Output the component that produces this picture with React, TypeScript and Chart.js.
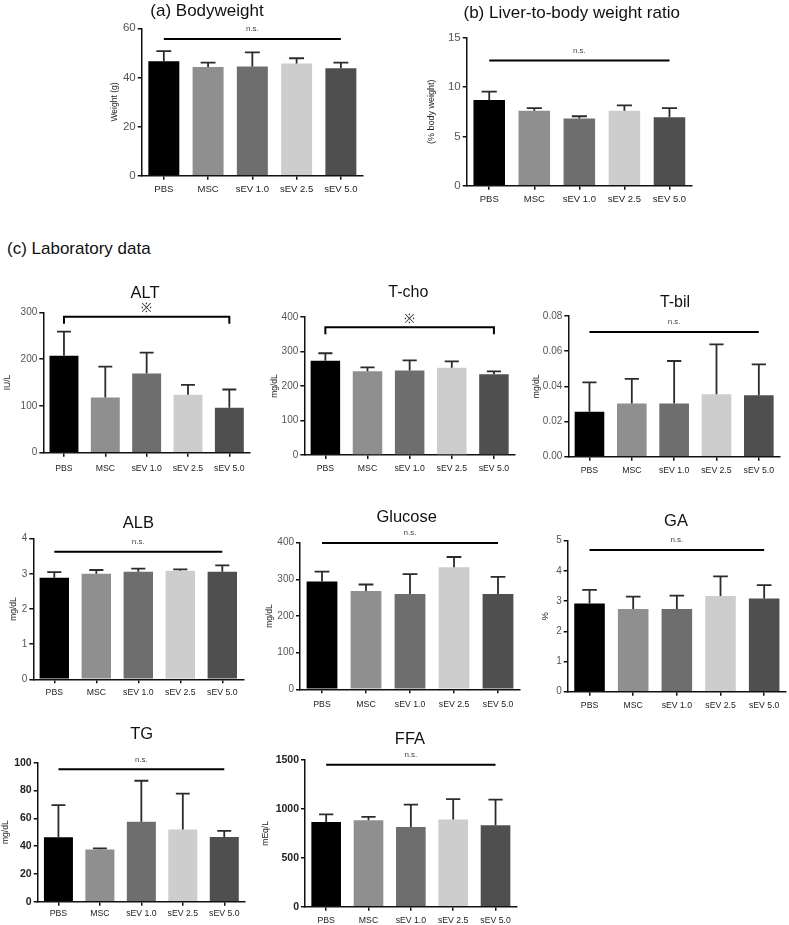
import React, { useEffect, useRef } from 'react';
import { Chart, registerables } from 'chart.js';
Chart.register(...registerables);

const FONT = "'Liberation Sans', Arial, Helvetica, sans-serif";

// ---------- data ----------
const groups = ['PBS', 'MSC', 'sEV 1.0', 'sEV 2.5', 'sEV 5.0'];
const barColors = ['#000000', '#8f8f8f', '#6e6e6e', '#cdcdcd', '#4f4f4f'];

const bodyweightMean = [46.6, 44.2, 44.5, 45.7, 43.7];
const bodyweightSD = [4.1, 1.8, 5.7, 2.1, 2.3];

const liverRatioMean = [8.68, 7.6, 6.8, 7.6, 6.93];
const liverRatioSD = [0.85, 0.27, 0.24, 0.55, 0.94];

const altMean = [207, 118, 169, 124, 96];
const altSD = [51.5, 66, 45, 21, 39];

const tchoMean = [273, 243, 245, 253, 234];
const tchoSD = [22, 11, 29, 18.5, 8.5];

const tbilMean = [0.0256, 0.0303, 0.0303, 0.0355, 0.0349];
const tbilSD = [0.0167, 0.0139, 0.0241, 0.0284, 0.0176];

const albMean = [2.89, 3.0, 3.06, 3.09, 3.06];
const albSD = [0.16, 0.11, 0.09, 0.04, 0.18];

const glucoseMean = [294, 268, 260, 333, 260];
const glucoseSD = [27, 18, 54, 28, 47];

const gaMean = [2.92, 2.74, 2.74, 3.17, 3.09];
const gaSD = [0.45, 0.41, 0.44, 0.65, 0.44];

const tgMean = [46.3, 37.6, 57.6, 52, 46.5];
const tgSD = [23.2, 0.8, 29.4, 25.7, 4.5];

const ffaMean = [867, 884, 816, 891, 833];
const ffaSD = [78, 34, 228, 208, 262];

// significance line levels (axis units)
const sigLevels = {
  bw: 55.6, liver: 12.7, alt: 290.6, tcho: 370, tbil: 0.0709,
  alb: 3.63, glucose: 399, ga: 4.69, tg: 95.2, ffa: 1452,
};

// ---------- layout ----------
type Panel = {
  id: string;
  title: string;
  titleX: number;
  titleY: number;
  titleSize: number;
  yLabel: string;
  yLabelX: number;
  axisLeft: number;
  axisRight: number;
  yTop: number;
  yBottom: number;
  max: number;
  step: number;
  decimals: number;
  mean: number[];
  sd: number[];
  sig: number;
  sigType: 'ns' | 'star';
  labelY: number;
  xFont: number;
  yFont: number;
  yBold?: boolean;
  yLabelFont: number;
};

const panels: Panel[] = [
  { id: 'bw', title: '(a) Bodyweight', titleX: 207, titleY: 9.5, titleSize: 17, yLabel: 'Weight (g)', yLabelX: 115,
    axisLeft: 141.7, axisRight: 363, yTop: 28.3, yBottom: 175.7, max: 60, step: 20, decimals: 0,
    mean: bodyweightMean, sd: bodyweightSD, sig: sigLevels.bw, sigType: 'ns', labelY: 189, xFont: 9.5, yFont: 11.5, yLabelFont: 8.5 },
  { id: 'liver', title: '(b) Liver-to-body weight ratio', titleX: 571.7, titleY: 11.5, titleSize: 17, yLabel: '(% body weight)', yLabelX: 431.7,
    axisLeft: 466.7, axisRight: 692, yTop: 37.7, yBottom: 185.7, max: 15, step: 5, decimals: 0,
    mean: liverRatioMean, sd: liverRatioSD, sig: sigLevels.liver, sigType: 'ns', labelY: 199, xFont: 9.5, yFont: 11.5, yLabelFont: 9 },
  { id: 'alt', title: 'ALT', titleX: 145, titleY: 291.7, titleSize: 16.5, yLabel: 'IU/L', yLabelX: 8,
    axisLeft: 43.3, axisRight: 250, yTop: 312.3, yBottom: 452.7, max: 300, step: 100, decimals: 0,
    mean: altMean, sd: altSD, sig: sigLevels.alt, sigType: 'star', labelY: 468.3, xFont: 8.7, yFont: 10, yLabelFont: 8.5 },
  { id: 'tcho', title: 'T-cho', titleX: 408.3, titleY: 291.7, titleSize: 16, yLabel: 'mg/dL', yLabelX: 275,
    axisLeft: 304.3, axisRight: 515, yTop: 317, yBottom: 455, max: 400, step: 100, decimals: 0,
    mean: tchoMean, sd: tchoSD, sig: sigLevels.tcho, sigType: 'star', labelY: 467.7, xFont: 8.7, yFont: 10, yLabelFont: 8.5 },
  { id: 'tbil', title: 'T-bil', titleX: 675, titleY: 301.7, titleSize: 16, yLabel: 'mg/dL', yLabelX: 536.7,
    axisLeft: 568.3, axisRight: 780, yTop: 316, yBottom: 456.7, max: 0.08, step: 0.02, decimals: 2,
    mean: tbilMean, sd: tbilSD, sig: sigLevels.tbil, sigType: 'ns', labelY: 470, xFont: 8.7, yFont: 10, yLabelFont: 8.5 },
  { id: 'alb', title: 'ALB', titleX: 138.3, titleY: 521.7, titleSize: 16.5, yLabel: 'mg/dL', yLabelX: 14,
    axisLeft: 33.3, axisRight: 243.3, yTop: 538.7, yBottom: 679.3, max: 4, step: 1, decimals: 0,
    mean: albMean, sd: albSD, sig: sigLevels.alb, sigType: 'ns', labelY: 691.7, xFont: 8.7, yFont: 10, yLabelFont: 8.5 },
  { id: 'glucose', title: 'Glucose', titleX: 406.7, titleY: 516, titleSize: 16.5, yLabel: 'mg/dL', yLabelX: 269.3,
    axisLeft: 300, axisRight: 520, yTop: 542.7, yBottom: 689.3, max: 400, step: 100, decimals: 0,
    mean: glucoseMean, sd: glucoseSD, sig: sigLevels.glucose, sigType: 'ns', labelY: 704, xFont: 8.7, yFont: 10, yLabelFont: 8.5 },
  { id: 'ga', title: 'GA', titleX: 676, titleY: 520, titleSize: 16.5, yLabel: '%', yLabelX: 545,
    axisLeft: 567.7, axisRight: 786, yTop: 540.7, yBottom: 691.7, max: 5, step: 1, decimals: 0,
    mean: gaMean, sd: gaSD, sig: sigLevels.ga, sigType: 'ns', labelY: 705, xFont: 8.7, yFont: 10, yLabelFont: 9.5 },
  { id: 'tg', title: 'TG', titleX: 141.7, titleY: 732.7, titleSize: 16.5, yLabel: 'mg/dL', yLabelX: 6,
    axisLeft: 37.7, axisRight: 245, yTop: 762.7, yBottom: 901.7, max: 100, step: 20, decimals: 0,
    mean: tgMean, sd: tgSD, sig: sigLevels.tg, sigType: 'ns', labelY: 913.3, xFont: 8.7, yFont: 10.5, yBold: true, yLabelFont: 8.5 },
  { id: 'ffa', title: 'FFA', titleX: 410, titleY: 738.3, titleSize: 16.5, yLabel: 'mEq/L', yLabelX: 266,
    axisLeft: 305, axisRight: 516.7, yTop: 760, yBottom: 906.7, max: 1500, step: 500, decimals: 0,
    mean: ffaMean, sd: ffaSD, sig: sigLevels.ffa, sigType: 'ns', labelY: 920, xFont: 8.7, yFont: 10.5, yBold: true, yLabelFont: 8.5 },
];

const PADL = 46;
const PADT = 30;
const PADB = 26;
const TICK = 4;

function geom(p: Panel) {
  const left = Math.floor(p.axisLeft - PADL);
  const top = Math.floor(p.yTop - PADT);
  const width = Math.ceil(p.axisRight + 8) - left;
  const height = Math.ceil(p.yBottom + PADB) - top;
  return { left, top, width, height };
}

function BarPanel({ p }: { p: Panel }) {
  const ref = useRef<HTMLCanvasElement | null>(null);
  const g = geom(p);
  useEffect(() => {
    if (!ref.current) return;
    const yWidth = p.axisLeft - g.left;
    const padTop = p.yTop - g.top;
    const padRight = g.left + g.width - p.axisRight;
    const xHeight = g.top + g.height - p.yBottom;
    const xPad = p.labelY - 0.55 * p.xFont - p.yBottom - TICK;

    const deco = {
      id: 'deco-' + p.id,
      afterDatasetsDraw(chart: any) {
        const ctx = chart.ctx as CanvasRenderingContext2D;
        const meta = chart.getDatasetMeta(0);
        const ys = chart.scales.y;
        const area = chart.chartArea;
        ctx.save();
        // error bars (upper only)
        ctx.strokeStyle = '#2b2b2b';
        ctx.lineWidth = 1.8;
        ctx.lineCap = 'butt';
        meta.data.forEach((bar: any, i: number) => {
          const x = bar.x;
          const w = bar.width;
          const y0 = ys.getPixelForValue(p.mean[i]);
          const y1 = ys.getPixelForValue(p.mean[i] + p.sd[i]);
          ctx.beginPath();
          ctx.moveTo(x, y0);
          ctx.lineTo(x, y1);
          ctx.moveTo(x - w * 0.24, y1);
          ctx.lineTo(x + w * 0.24, y1);
          ctx.stroke();
        });
        // significance line
        const first = meta.data[0].x;
        const last = meta.data[meta.data.length - 1].x;
        const ySig = ys.getPixelForValue(p.sig);
        ctx.strokeStyle = '#000';
        ctx.lineWidth = 2;
        ctx.beginPath();
        if (p.sigType === 'star') {
          ctx.moveTo(first, ySig + 7);
          ctx.lineTo(first, ySig);
          ctx.lineTo(last, ySig);
          ctx.lineTo(last, ySig + 7);
        } else {
          ctx.moveTo(first, ySig);
          ctx.lineTo(last, ySig);
        }
        ctx.stroke();
        ctx.textAlign = 'center';
        ctx.textBaseline = 'middle';
        const mid = (first + last) / 2;
        if (p.sigType === 'star') {
          ctx.fillStyle = '#333';
          ctx.font = `13px ${FONT}`;
          ctx.fillText('※', mid, ySig - 8);
        } else {
          ctx.fillStyle = '#444';
          ctx.font = `8px ${FONT}`;
          ctx.fillText('n.s.', mid, ySig - 10);
        }
        // y axis title
        ctx.fillStyle = '#222';
        ctx.font = `${p.yLabelFont}px ${FONT}`;
        ctx.translate(p.yLabelX - g.left, (area.top + area.bottom) / 2);
        ctx.rotate(-Math.PI / 2);
        ctx.fillText(p.yLabel, 0, 0);
        ctx.restore();
      },
    };

    const chart = new Chart(ref.current, {
      type: 'bar',
      data: {
        labels: groups,
        datasets: [
          {
            data: p.mean,
            backgroundColor: barColors,
            borderWidth: 0,
            barPercentage: 0.7,
            categoryPercentage: 1.0,
          },
        ],
      },
      options: {
        responsive: false,
        animation: false,
        devicePixelRatio: 1,
        layout: { padding: { left: 0, top: padTop, right: padRight, bottom: 0 } },
        plugins: { legend: { display: false }, tooltip: { enabled: false }, title: { display: false } },
        scales: {
          x: {
            type: 'category',
            offset: true,
            grid: { display: true, drawOnChartArea: false, drawTicks: true, tickLength: TICK, offset: false, color: '#111', lineWidth: 1.5 },
            border: { display: true, color: '#111', width: 1.5 },
            ticks: { font: { family: FONT, size: p.xFont }, color: '#222', padding: xPad, maxRotation: 0, minRotation: 0, autoSkip: false },
            afterFit: (s: any) => { s.height = xHeight; },
          },
          y: {
            min: 0,
            max: p.max,
            grid: { display: true, drawOnChartArea: false, drawTicks: true, tickLength: TICK, color: '#111', lineWidth: 1.5 },
            border: { display: true, color: '#111', width: 1.5 },
            ticks: {
              stepSize: p.step,
              font: { family: FONT, size: p.yFont, weight: p.yBold ? 'bold' : 'normal' },
              color: p.yBold ? '#222' : '#555',
              padding: 2,
              callback: (v: any) => Number(v).toFixed(p.decimals),
            },
            afterFit: (s: any) => { s.width = yWidth; },
          },
        },
      } as any,
      plugins: [deco],
    });
    return () => chart.destroy();
  }, []);
  return (
    <canvas
      ref={ref}
      width={g.width}
      height={g.height}
      style={{ position: 'absolute', left: g.left, top: g.top, width: g.width, height: g.height }}
    />
  );
}

export default function App() {
  return (
    <div style={{ position: 'absolute', left: 0, top: 0, width: 789, height: 925, overflow: 'hidden', background: '#fff', fontFamily: FONT }}>
      {panels.map((p) => (
        <BarPanel key={p.id} p={p} />
      ))}
      {panels.map((p) => (
        <div
          key={'t-' + p.id}
          style={{ position: 'absolute', left: p.titleX, top: p.titleY, transform: 'translate(-50%, -50%)', whiteSpace: 'nowrap', fontSize: p.titleSize, lineHeight: 1, color: '#111' }}
        >
          {p.title}
        </div>
      ))}
      <div style={{ position: 'absolute', left: 7, top: 248, transform: 'translateY(-50%)', whiteSpace: 'nowrap', fontSize: 17, lineHeight: 1, color: '#111' }}>
        (c) Laboratory data
      </div>
    </div>
  );
}
